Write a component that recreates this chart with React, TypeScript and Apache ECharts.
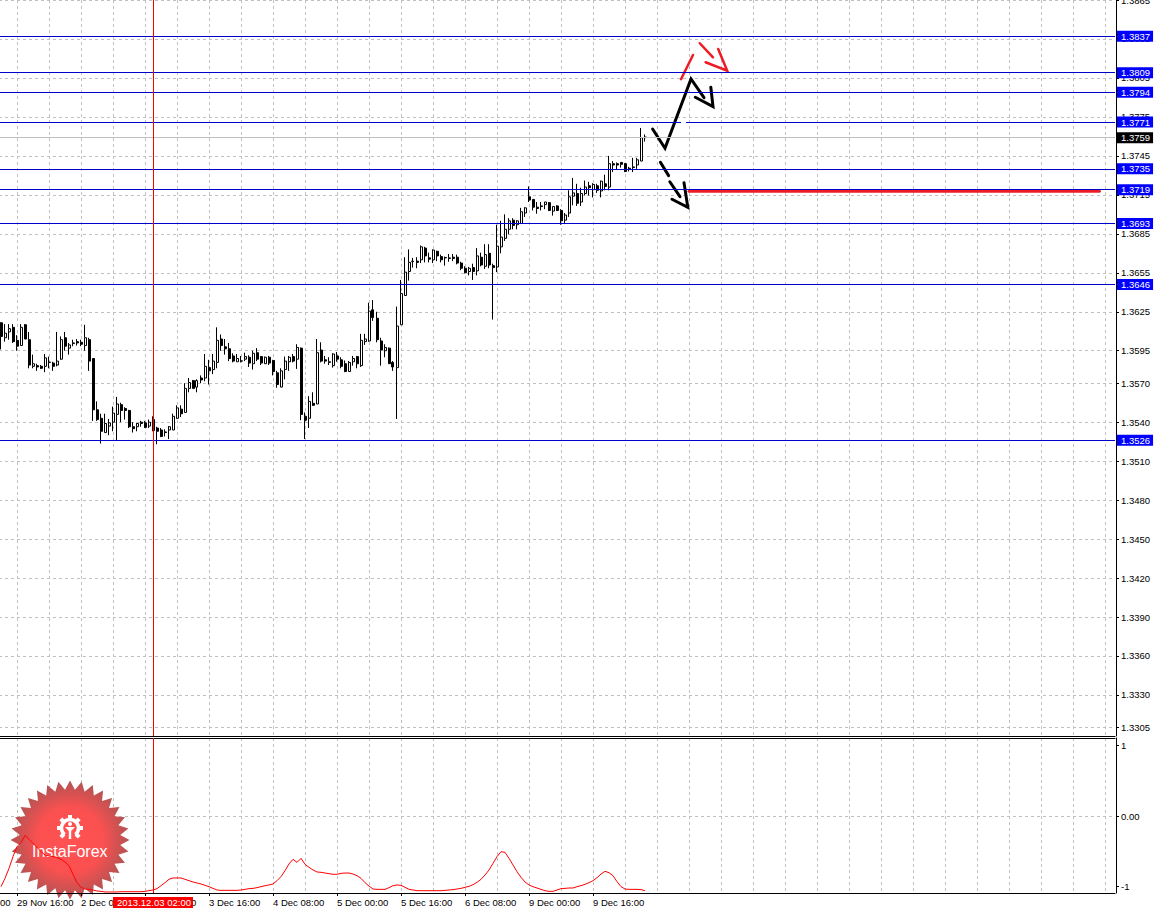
import React, { useEffect, useRef } from "react";
import * as echarts from "echarts";

const opens = [1.36165,1.3605,1.36095,1.3613,1.3603,1.3599,1.3615,1.36035,1.3583,1.35835,1.3583,1.3583,1.3586,1.35855,1.3584,1.35885,1.3605,1.3597,1.36005,1.3602,1.36015,1.3599,1.36035,1.3589,1.35495,1.3543,1.3532,1.3537,1.354,1.3546,1.35535,1.35505,1.3549,1.35365,1.35365,1.354,1.35395,1.3537,1.3542,1.35355,1.3534,1.35325,1.3534,1.3534,1.3543,1.355,1.35475,1.3566,1.3572,1.3567,1.3574,1.3574,1.3582,1.35805,1.3586,1.3604,1.3598,1.35965,1.3591,1.35865,1.3587,1.35885,1.359,1.3585,1.35935,1.35905,1.3585,1.359,1.35875,1.3578,1.3567,1.35805,1.35865,1.35905,1.35885,1.3597,1.35445,1.3543,1.35545,1.3554,1.35955,1.3588,1.3586,1.35835,1.3591,1.3588,1.3585,1.3579,1.35865,1.35905,1.35835,1.3602,1.36025,1.36265,1.362,1.36025,1.3595,1.3597,1.3586,1.3582,1.3615,1.36375,1.3656,1.36635,1.3664,1.3665,1.3674,1.36665,1.3665,1.36715,1.36675,1.36665,1.3666,1.3667,1.3667,1.36625,1.36585,1.3656,1.3659,1.36565,1.3667,1.366,1.367,1.36605,1.36595,1.3675,1.36815,1.36885,1.36955,1.3692,1.3693,1.3701,1.37135,1.37115,1.37055,1.3706,1.37075,1.3709,1.37025,1.37065,1.3703,1.36955,1.3701,1.3714,1.3716,1.37095,1.3716,1.3722,1.3719,1.3722,1.3718,1.37235,1.3721,1.3739,1.3739,1.374,1.3739,1.37355,1.3736,1.3738,1.3741,1.37595];
const closes = [1.3606,1.36085,1.3612,1.3602,1.35985,1.3613,1.3604,1.3584,1.3585,1.35825,1.35815,1.35895,1.35862,1.3583,1.3587,1.36035,1.35985,1.35995,1.3601,1.3601,1.36,1.3605,1.3587,1.35495,1.3542,1.3533,1.3539,1.35395,1.3547,1.3554,1.3549,1.3549,1.35365,1.3535,1.3539,1.3539,1.3536,1.354,1.35335,1.3533,1.3529,1.3532,1.35365,1.35445,1.3551,1.35465,1.3566,1.35705,1.3566,1.3572,1.35725,1.3583,1.35795,1.3587,1.3603,1.3599,1.35965,1.3589,1.3587,1.3589,1.35872,1.35905,1.35855,1.3593,1.35885,1.35855,1.359,1.35855,1.3579,1.3569,1.35795,1.3587,1.359,1.3587,1.35975,1.3546,1.35415,1.3556,1.3553,1.35935,1.3587,1.3587,1.35865,1.35925,1.35885,1.3583,1.3579,1.3586,1.3589,1.3585,1.3603,1.3604,1.36255,1.36205,1.36035,1.35955,1.35975,1.3585,1.35825,1.3614,1.3639,1.36555,1.3663,1.3664,1.3663,1.3675,1.3668,1.36655,1.36725,1.3668,1.3665,1.36667,1.36665,1.3666,1.36625,1.36585,1.3655,1.36585,1.3656,1.3668,1.3661,1.3669,1.3661,1.3659,1.36755,1.36825,1.36885,1.3695,1.36915,1.3695,1.3702,1.3705,1.3711,1.37055,1.37045,1.37065,1.37095,1.3703,1.3706,1.3703,1.3695,1.36995,1.37135,1.37165,1.37085,1.3716,1.3721,1.37205,1.3723,1.37185,1.37255,1.37215,1.3739,1.3738,1.3738,1.37385,1.3733,1.3735,1.37365,1.3742,1.3759,1.3759];
const lows = [1.3596,1.3602,1.36035,1.3601,1.3595,1.3599,1.3604,1.35815,1.35815,1.35795,1.3581,1.35785,1.35815,1.35795,1.3583,1.3588,1.3595,1.3592,1.35985,1.3599,1.35985,1.3595,1.35795,1.3541,1.3541,1.35235,1.3532,1.353,1.3533,1.3526,1.354,1.3542,1.35355,1.3532,1.3533,1.35365,1.35355,1.35355,1.3533,1.3523,1.35285,1.3529,1.3527,1.3534,1.35425,1.3544,1.35475,1.3563,1.3566,1.3563,1.357,1.35715,1.3569,1.3577,1.35815,1.3595,1.3592,1.3587,1.3586,1.35865,1.3586,1.3587,1.35825,1.35805,1.3587,1.3584,1.3585,1.3584,1.3576,1.35665,1.3567,1.3573,1.35795,1.3586,1.3581,1.35415,1.3527,1.35355,1.35525,1.3554,1.3586,1.3585,1.3584,1.3582,1.35865,1.35815,1.35785,1.3579,1.35835,1.35815,1.35825,1.35995,1.3602,1.3618,1.36015,1.35835,1.359,1.3585,1.35795,1.35425,1.3615,1.36375,1.3649,1.3659,1.36585,1.36625,1.3663,1.3663,1.36625,1.3664,1.3663,1.36605,1.36635,1.3664,1.36615,1.3657,1.36545,1.3653,1.36495,1.3653,1.366,1.3658,1.36585,1.3619,1.36555,1.367,1.36795,1.36845,1.36885,1.36885,1.36925,1.3698,1.37095,1.3703,1.37005,1.3703,1.3704,1.37025,1.3699,1.37025,1.3692,1.36925,1.3698,1.3707,1.37065,1.37065,1.37145,1.37145,1.3713,1.37165,1.3713,1.37185,1.37185,1.37325,1.37345,1.3736,1.37325,1.3733,1.37325,1.3735,1.3741,1.3756];
const highs = [1.3617,1.36155,1.36155,1.36155,1.3607,1.36155,1.36155,1.36095,1.3592,1.3585,1.3584,1.35925,1.35905,1.35865,1.36095,1.3606,1.36095,1.3601,1.36035,1.3604,1.36035,1.3615,1.3605,1.3589,1.3556,1.35465,1.35465,1.35425,1.3552,1.35595,1.3555,1.35515,1.35495,1.354,1.35395,1.3541,1.3541,1.3542,1.35445,1.35365,1.35355,1.35345,1.3537,1.35465,1.3553,1.3553,1.357,1.3574,1.35725,1.3573,1.3576,1.35925,1.3588,1.35925,1.3613,1.36075,1.3604,1.3601,1.3593,1.35925,1.3591,1.35935,1.35915,1.3595,1.3597,1.3591,1.35905,1.3591,1.3588,1.35795,1.35815,1.35905,1.3591,1.35925,1.36,1.35975,1.35475,1.356,1.3563,1.3604,1.36015,1.3591,1.359,1.3593,1.3594,1.359,1.35875,1.3587,1.3591,1.3591,1.3608,1.3608,1.3632,1.3634,1.3625,1.3605,1.36,1.35975,1.3587,1.3629,1.36495,1.3667,1.3673,1.36665,1.3667,1.3676,1.3675,1.36705,1.3673,1.3672,1.3669,1.36675,1.36695,1.36695,1.3669,1.36635,1.366,1.36595,1.3662,1.3674,1.36705,1.3677,1.3677,1.3662,1.3692,1.3695,1.37,1.3697,1.3697,1.36955,1.3705,1.37055,1.37215,1.37115,1.37095,1.37095,1.37095,1.37095,1.3706,1.3707,1.3704,1.3701,1.37185,1.3728,1.37235,1.37205,1.3726,1.3725,1.3724,1.37235,1.3726,1.37305,1.3745,1.3741,1.374,1.374,1.37395,1.37365,1.37435,1.37435,1.37665,1.37615];
const oscillator = [-1,-0.882,-0.741,-0.575,-0.434,-0.377,-0.274,-0.33,-0.387,-0.443,-0.505,-0.552,-0.566,-0.575,-0.585,-0.613,-0.651,-0.703,-0.825,-0.943,-1.009,-1.033,-1.038,-1.047,-1.061,-1.066,-1.075,-1.075,-1.075,-1.075,-1.071,-1.071,-1.071,-1.071,-1.071,-1.071,-1.066,-1.057,-1.047,-1.028,-0.986,-0.943,-0.896,-0.877,-0.877,-0.877,-0.896,-0.915,-0.934,-0.948,-0.962,-0.981,-1,-1.024,-1.047,-1.052,-1.052,-1.052,-1.052,-1.052,-1.047,-1.038,-1.028,-1.024,-1.014,-1,-0.986,-0.976,-0.962,-0.915,-0.858,-0.774,-0.679,-0.613,-0.656,-0.599,-0.684,-0.726,-0.764,-0.792,-0.797,-0.807,-0.816,-0.825,-0.825,-0.811,-0.807,-0.807,-0.821,-0.844,-0.882,-0.943,-0.991,-1.033,-1.038,-1.038,-1.038,-1.014,-0.986,-0.976,-0.981,-1.009,-1.038,-1.047,-1.057,-1.057,-1.057,-1.057,-1.057,-1.057,-1.057,-1.052,-1.047,-1.042,-1.033,-1.024,-1.009,-0.995,-0.972,-0.939,-0.896,-0.835,-0.764,-0.67,-0.575,-0.505,-0.514,-0.599,-0.693,-0.788,-0.868,-0.934,-0.976,-1,-1.019,-1.038,-1.057,-1.066,-1.066,-1.047,-1.028,-1.024,-1.019,-1.019,-1,-0.986,-0.967,-0.943,-0.915,-0.873,-0.821,-0.783,-0.802,-0.844,-0.929,-1,-1.033,-1.038,-1.038,-1.038,-1.042,-1.057];

const priceTicks = [1.3305,1.333,1.336,1.339,1.342,1.345,1.348,1.351,1.354,1.357,1.3595,1.3625,1.3655,1.3685,1.3715,1.3745,1.3775,1.3805,1.3835,1.3865];
const levels = [1.3837,1.3809,1.3794,1.3771,1.3735,1.3719,1.3693,1.3646,1.3526];
const lastPrice = 1.3759;
const timeLabels = ["29 Nov 16:00","2 Dec 08:00","3 Dec 00:00","3 Dec 16:00","4 Dec 08:00","5 Dec 00:00","5 Dec 16:00","6 Dec 08:00","9 Dec 00:00","9 Dec 16:00"];
const timeLabelBars = [4,20,36,52,68,84,100,116,132,148];
const crosshairBar = 38;
const crosshairLabel = "2013.12.03 02:00";
const oscTicks = [-1,0,1];
const oscLabels = ["-1","0.00","1"];

// Hand-drawn forecast strokes: [bar number, price]
const blackMain = [[162.9,1.37657],[166,1.37509],[172.5,1.38042],[175.75,1.37898]];
const blackMainHead = [[177.45,1.37978],[178,1.37829],[173.58,1.37901]];
const blackDash1 = [[164.85,1.37401],[166.9,1.37298]];
const blackDash2 = [[167.2,1.37251],[169.75,1.37136]];
const blackDashHead = [[170.75,1.37244],[171.7,1.37054],[167.75,1.37116]];
const redDash1 = [[170,1.3804],[173,1.38227]];
const redDash2 = [[174.7,1.38317],[178,1.38209]];
const redHead = [[179.3,1.38273],[181.55,1.38106],[176.15,1.38171]];
const redTarget = [[172,1.37178],[274.6,1.37178]];

const BAR_SLOTS = 279;
const FONT = "'Liberation Sans', Arial, sans-serif";
const categories = Array.from({ length: BAR_SLOTS }, (_, i) => {
  const k = timeLabelBars.indexOf(i);
  return k >= 0 ? timeLabels[k] : String(i);
});
const gridBars: number[] = [];
for (let b = 4; b <= 276; b += 8) gridBars.push(b);

const PRICE_MAX = 1.3865;
const PRICE_MIN = 1.3865 - 736 / 12990;
const OSC_MAX = 78 / 70.67;
const OSC_MIN = -77 / 70.67;

const GRID_LINE = { show: true, lineStyle: { color: "#c0c0c0", type: [3, 3] as any, width: 1 } };

function starPoints(cx: number, cy: number, r1: number, r2: number, n: number) {
  const pts: number[][] = [];
  for (let i = 0; i < n * 2; i++) {
    const a = (Math.PI * i) / n - Math.PI / 2;
    const r = i % 2 === 0 ? r1 : r2;
    pts.push([cx + r * Math.cos(a), cy + r * Math.sin(a)]);
  }
  return pts;
}

function badge(): any[] {
  const cx = 70, cy = 840;
  const gearX = 70, gearY = 828;
  const teeth: any[] = [];
  for (let k = 0; k < 8; k++) {
    if (k === 6) continue;
    const a = (k * Math.PI * 2) / 8;
    teeth.push({
      type: "rect", x: gearX, y: gearY, rotation: a,
      shape: { x: 8.5, y: -2, width: 4.5, height: 4 }, style: { fill: "#fff" }, z: 1, silent: true,
    });
  }
  return [
    {
      type: "polygon", z: 1, silent: true,
      shape: { points: starPoints(cx, cy, 59.5, 50.5, 32) },
      style: {
        fill: new echarts.graphic.RadialGradient(0.5, 0.5, 0.5, [
          { offset: 0, color: "#ff5252" },
          { offset: 0.55, color: "#fb5050" },
          { offset: 1, color: "#b25353" },
        ]),
      },
    },
    ...teeth,
    {
      type: "arc", z: 1, silent: true,
      shape: { cx: gearX, cy: gearY, r: 8.5, startAngle: Math.PI * 0.72, endAngle: Math.PI * 0.28 },
      style: { stroke: "#fff", lineWidth: 3.5, fill: "none" },
    },
    { type: "circle", z: 1, silent: true, shape: { cx: gearX, cy: gearY - 4, r: 2 }, style: { fill: "#fff" } },
    { type: "polygon", z: 1, silent: true, shape: { points: [[gearX - 5, gearY - 1], [gearX + 5, gearY - 1], [gearX + 1.2, gearY + 3], [gearX + 1.2, gearY + 11], [gearX - 1.2, gearY + 11], [gearX - 1.2, gearY + 3]] }, style: { fill: "#fff" } },
    {
      type: "text", z: 1, silent: true, x: 32, y: 843,
      style: { text: "InstaForex", fill: "#fff", fontFamily: FONT, fontSize: 16 },
    },
  ];
}

function strokeSeries(data: number[][], color: string, width: number) {
  return {
    type: "line", xAxisIndex: 1, yAxisIndex: 0, data, showSymbol: false, symbol: "none", silent: true,
    lineStyle: { color, width, cap: "round", join: "miter" }, z: 4, clip: false,
  };
}

export default function App() {
  const ref = useRef<HTMLDivElement>(null);
  useEffect(() => {
    const chart = echarts.init(ref.current!, undefined, { renderer: "svg" });
    const candles = opens.map((o, i) => [o, closes[i], lows[i], highs[i]]);
    const levelLabel = (bg: string) => ({
      show: true, position: "end", distance: 2, formatter: "{b}", color: "#fff", backgroundColor: bg,
      fontFamily: FONT, fontSize: 9.5, padding: [1, 3, 0, 4], lineHeight: 10,
    });
    const hiddenValueX = {
      type: "value", min: -0.5, max: 278.5, axisLabel: { show: false }, axisTick: { show: false, customValues: gridBars },
      splitLine: GRID_LINE,
    };
    chart.setOption({
      animation: false,
      backgroundColor: "#fff",
      grid: [
        { left: -1, top: 0, width: 1116, height: 736, outerBoundsMode: "none" },
        { left: -1, top: 738, width: 1116, height: 155, outerBoundsMode: "none" },
      ],
      xAxis: [
        {
          type: "category", gridIndex: 0, data: categories, position: "bottom",
          axisLabel: { show: false }, axisTick: { show: false }, splitLine: { show: false },
          axisLine: { show: true, onZero: false, lineStyle: { color: "#000", width: 1 } },
        },
        { ...hiddenValueX, gridIndex: 0, position: "top", axisLine: { show: false } },
        {
          type: "category", gridIndex: 1, data: categories, position: "bottom", z: 6,
          axisLine: { show: true, onZero: false, lineStyle: { color: "#000", width: 1 } },
          axisTick: { show: true, alignWithLabel: true, length: 3, interval: (i: number) => timeLabelBars.includes(i), lineStyle: { color: "#000" } },
          axisLabel: {
            show: true, align: "left", margin: 4, color: "#000", fontFamily: FONT, fontSize: 9.5,
            interval: (i: number) => timeLabelBars.includes(i), hideOverlap: false,
          },
          splitLine: { show: false },
        },
        { ...hiddenValueX, gridIndex: 1, position: "top", axisLine: { show: true, onZero: false, lineStyle: { color: "#000", width: 1 } } },
      ],
      yAxis: [
        {
          type: "value", gridIndex: 0, position: "right", offset: 1, min: PRICE_MIN, max: PRICE_MAX, scale: true,
          axisLine: { show: true, onZero: false, lineStyle: { color: "#000", width: 1 } },
          axisTick: { show: true, length: 3, customValues: priceTicks, lineStyle: { color: "#000" } },
          axisLabel: {
            show: true, margin: 5, color: "#000", fontFamily: FONT, fontSize: 9.5, customValues: priceTicks,
            formatter: (v: number) => v.toFixed(4), showMinLabel: true, showMaxLabel: true, hideOverlap: false,
          },
          splitLine: GRID_LINE,
        },
        {
          type: "value", gridIndex: 1, position: "right", offset: 1, min: OSC_MIN, max: OSC_MAX,
          axisLine: { show: true, onZero: false, lineStyle: { color: "#000", width: 1 } },
          axisTick: { show: true, length: 3, customValues: oscTicks, lineStyle: { color: "#000" } },
          axisLabel: {
            show: true, margin: 5, color: "#000", fontFamily: FONT, fontSize: 9.5, customValues: oscTicks,
            formatter: (v: number) => oscLabels[oscTicks.indexOf(v)] ?? "",
          },
          splitLine: { show: false },
        },
        {
          type: "value", gridIndex: 1, position: "left", min: OSC_MIN, max: OSC_MAX,
          axisLine: { show: false }, axisLabel: { show: false },
          axisTick: { show: false, customValues: [0] }, splitLine: GRID_LINE,
        },
      ],
      graphic: [
        ...badge(),
        { type: "rect", z: 8, silent: true, shape: { x: 681, y: 122, width: 5, height: 3 }, style: { fill: "#fff" } },
        { type: "text", z: 8, silent: true, x: 0, y: 897, style: { text: "00", fill: "#000", fontFamily: FONT, fontSize: 9.5 } },
        { type: "rect", z: 8, silent: true, shape: { x: 113, y: 897, width: 80, height: 11 }, style: { fill: "#ff0000" } },
        { type: "text", z: 9, silent: true, x: 117, y: 897.5, style: { text: crosshairLabel, fill: "#fff", fontFamily: FONT, fontSize: 9.5 } },
      ],
      series: [
        {
          type: "line", xAxisIndex: 1, yAxisIndex: 0, data: [[0, lastPrice]], showSymbol: false, symbol: "none", silent: true, z: 2,
          lineStyle: { width: 0 },
          markLine: {
            silent: true, symbol: ["none", "none"], animation: false, precision: 6,
            data: [
              { yAxis: lastPrice, name: lastPrice.toFixed(4), lineStyle: { color: "#c0c0c0", width: 1, type: "solid" }, label: levelLabel("#000") },
              ...levels.map((v) => ({ yAxis: v, name: v.toFixed(4), lineStyle: { color: "#0000cd", width: 1, type: "solid" }, label: levelLabel("#0000ff") })),
              { xAxis: crosshairBar, name: "", lineStyle: { color: "#ff0000", width: 1, type: "solid" }, label: { show: false } },
            ],
          },
        },
        {
          type: "candlestick", xAxisIndex: 0, yAxisIndex: 0, data: candles, barWidth: 2.5, z: 3, silent: true,
          itemStyle: { color: "#fff", color0: "#000", borderColor: "#000", borderColor0: "#000", borderWidth: 1 },
        },
        {
          type: "line", xAxisIndex: 2, yAxisIndex: 1, data: oscillator, showSymbol: false, symbol: "none", silent: true, z: 3,
          lineStyle: { color: "#ff0000", width: 1 },
          markLine: {
            silent: true, symbol: ["none", "none"], animation: false,
            data: [{ xAxis: crosshairBar, lineStyle: { color: "#ff0000", width: 1, type: "solid" }, label: { show: false } }],
          },
        },
        strokeSeries(blackMain, "#000", 3),
        strokeSeries(blackMainHead, "#000", 3),
        strokeSeries(blackDash1, "#000", 3),
        strokeSeries(blackDash2, "#000", 3),
        strokeSeries(blackDashHead, "#000", 3),
        strokeSeries(redDash1, "#ed1c24", 2.5),
        strokeSeries(redDash2, "#ed1c24", 2.5),
        strokeSeries(redHead, "#ed1c24", 2.5),
        strokeSeries(redTarget, "#ed1c24", 3),
      ],
    });
    return () => chart.dispose();
  }, []);
  return <div ref={ref} style={{ position: "fixed", left: 0, top: 0, width: 1157, height: 910, background: "#fff" }} />;
}
